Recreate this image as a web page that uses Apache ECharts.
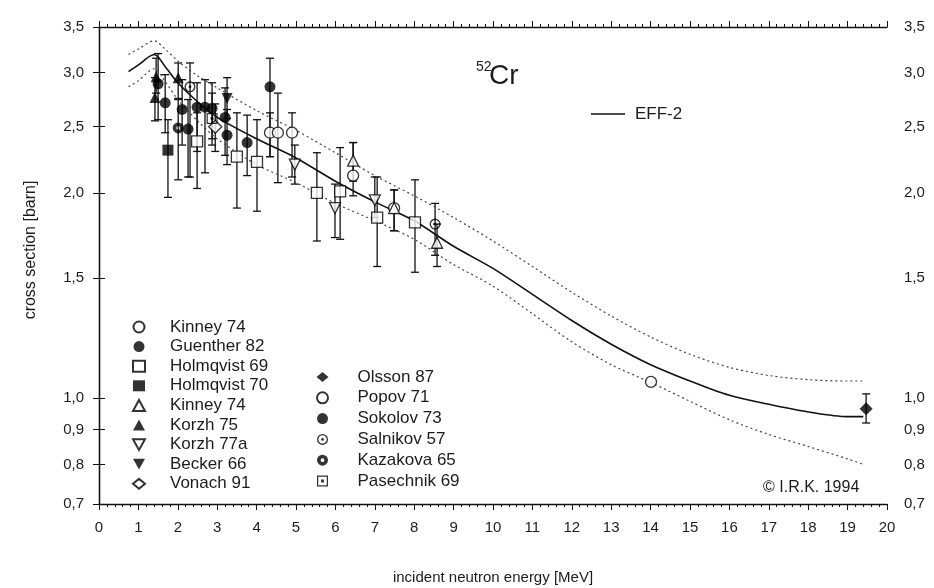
<!DOCTYPE html>
<html>
<head>
<meta charset="utf-8">
<title>52Cr cross section</title>
<script src="https://cdn.jsdelivr.net/npm/echarts@6/dist/echarts.min.js"></script>
<style>
    html, body { margin: 0; background: #fff; }
    #chart { width: 934px; height: 588px; }
</style>
</head>
<body>
<div id="chart"></div>
<script>
// tick labels of the (logarithmic) cross section axis
var yTicks = [0.7, 0.8, 0.9, 1.0, 1.5, 2.0, 2.5, 3.0, 3.5];

// EFF-2 evaluation and its uncertainty band
var effEnergy = [0.75, 1.0, 1.4, 1.7, 2.0, 2.5, 3.0, 4.0, 5.0, 6.0, 7.0, 8.0, 9.0, 10.0, 11.0, 12.0, 13.0, 14.0, 15.0, 16.0, 17.0, 18.0, 19.0, 19.4];
var effValue  = [3.01, 3.08, 3.19, 3.05, 2.90, 2.72, 2.58, 2.40, 2.25, 2.08, 1.94, 1.82, 1.67, 1.55, 1.42, 1.30, 1.20, 1.12, 1.06, 1.01, 0.98, 0.955, 0.94, 0.94];
var effUpper  = [3.19, 3.25, 3.34, 3.24, 3.12, 2.97, 2.85, 2.64, 2.47, 2.29, 2.12, 1.98, 1.84, 1.70, 1.56, 1.43, 1.32, 1.23, 1.16, 1.11, 1.08, 1.065, 1.06, 1.06];
var effLower  = [2.86, 2.92, 3.04, 2.90, 2.74, 2.55, 2.40, 2.20, 2.07, 1.93, 1.82, 1.71, 1.57, 1.46, 1.33, 1.21, 1.12, 1.055, 0.99, 0.93, 0.885, 0.85, 0.815, 0.80];

// measurements: [energy MeV, cross section barn, error low, error high]
var kinney74c = [[4.34, 2.45, 2.26, 2.62], [4.54, 2.45, 2.07, 2.80], [4.90, 2.45, 2.11, 2.62], [6.45, 2.12, 1.98, 2.37], [7.49, 1.90, 1.76, 2.02]];
var guenther82 = [[1.50, 2.89, 2.56, 3.20], [1.68, 2.71, 2.45, 2.98], [2.11, 2.65, 2.35, 2.93], [2.26, 2.48, 2.11, 2.74], [2.49, 2.67, 2.30, 2.90],
                  [2.69, 2.67, 2.14, 2.93], [2.87, 2.66, 2.40, 2.90], [3.20, 2.58, 2.27, 2.85], [3.25, 2.43, 2.20, 2.65], [3.76, 2.37, 2.12, 2.60]];
var holmqvist69 = [[2.49, 2.38, 2.03, 2.62], [3.50, 2.26, 1.90, 2.62], [4.01, 2.22, 1.88, 2.56], [5.53, 2.00, 1.70, 2.29], [6.12, 2.01, 1.71, 2.33], [7.06, 1.84, 1.56, 2.11], [8.02, 1.81, 1.53, 2.09]];
var holmqvist70 = [[1.75, 2.31, 1.97, 2.56]];
var kinney74t = [[6.45, 2.23, 2.08, 2.37], [7.49, 1.90, 1.76, 2.02], [8.58, 1.69, 1.56, 1.80]];
var korzh75 = [[1.45, 2.96, 2.80, 3.15], [1.42, 2.76, 2.55, 2.95], [2.01, 2.95, 2.74, 3.10]];
var korzh77a = [[4.97, 2.20, 2.06, 2.35], [5.99, 1.90, 1.72, 2.06], [7.00, 1.95, 1.84, 2.11]];
var becker66 = [[3.25, 2.75, 2.57, 2.95]];
var vonach91 = [[2.95, 2.50, 2.30, 2.70]];
var olsson87 = [[19.47, 0.965, 0.92, 1.015]];
var popov71 = [[14.01, 1.057, null, null]];
var sokolov73 = [[4.34, 2.86, 2.26, 3.15]];
var salnikov57 = [[2.31, 2.86, 2.11, 3.10], [8.53, 1.80, 1.62, 1.93]];
var kazakova65 = [[2.01, 2.49, 2.09, 2.75]];
var pasechnik69 = [[2.87, 2.57, 2.35, 2.80]];

var ringDot = 'path://M0,-10A10,10,0,1,1,0,10A10,10,0,1,1,0,-10ZM0,-7.6A7.6,7.6,0,1,0,0,7.6A7.6,7.6,0,1,0,0,-7.6ZM0,-2.6A2.6,2.6,0,1,1,0,2.6A2.6,2.6,0,1,1,0,-2.6Z';
var thickRing = 'path://M0,-10A10,10,0,1,1,0,10A10,10,0,1,1,0,-10ZM0,-3.4A3.4,3.4,0,1,0,0,3.4A3.4,3.4,0,1,0,0,-3.4Z';
var squareDot = 'path://M-10,-10L10,-10L10,10L-10,10ZM-7.8,-7.8L-7.8,7.8L7.8,7.8L7.8,-7.8ZM-2.6,-2.6L2.6,-2.6L2.6,2.6L-2.6,2.6Z';
var downTri = 'path://M-10,-9L10,-9L0,9Z';
var wideDiamond = 'path://M0,-9L11,0L0,9L-11,0Z';

var FONT = '"Liberation Sans", Arial, sans-serif';
var INK = '#1c1c1c';

var sets = [
    { name: 'Kinney 74', rows: kinney74c, symbol: 'circle', open: true },
    { name: 'Guenther 82', rows: guenther82, symbol: 'circle' },
    { name: 'Holmqvist 69', rows: holmqvist69, symbol: 'rect', open: true },
    { name: 'Holmqvist 70', rows: holmqvist70, symbol: 'rect' },
    { name: 'Kinney 74 ', rows: kinney74t, symbol: 'triangle', open: true },
    { name: 'Korzh 75', rows: korzh75, symbol: 'triangle' },
    { name: 'Korzh 77a', rows: korzh77a, symbol: downTri, open: true },
    { name: 'Becker 66', rows: becker66, symbol: downTri },
    { name: 'Vonach 91', rows: vonach91, symbol: wideDiamond, open: true },
    { name: 'Olsson 87', rows: olsson87, symbol: wideDiamond },
    { name: 'Popov 71', rows: popov71, symbol: 'circle', open: true },
    { name: 'Sokolov 73', rows: sokolov73, symbol: 'circle' },
    { name: 'Salnikov 57', rows: salnikov57, symbol: ringDot },
    { name: 'Kazakova 65', rows: kazakova65, symbol: thickRing },
    { name: 'Pasechnik 69', rows: pasechnik69, symbol: squareDot }
];

function lg(v) { return Math.log10(v); }

function curve(values) {
    return effEnergy.map(function (e, i) { return [e, lg(values[i])]; });
}

var errorRows = [];
sets.forEach(function (s) {
    s.rows.forEach(function (r) {
        if (r[2] != null) {
            errorRows.push([r[0], lg(r[2]), lg(r[3])]);
        }
    });
});

function renderErrorBar(params, api) {
    var x = api.value(0);
    var lo = api.coord([x, api.value(1)]);
    var hi = api.coord([x, api.value(2)]);
    var w = 4;
    var st = { stroke: '#111', lineWidth: 1.3 };
    return {
        type: 'group',
        children: [
            { type: 'line', shape: { x1: lo[0], y1: lo[1], x2: hi[0], y2: hi[1] }, style: st },
            { type: 'line', shape: { x1: lo[0] - w, y1: lo[1], x2: lo[0] + w, y2: lo[1] }, style: st },
            { type: 'line', shape: { x1: hi[0] - w, y1: hi[1], x2: hi[0] + w, y2: hi[1] }, style: st }
        ]
    };
}

var series = [
    {
        name: 'errors', type: 'custom', renderItem: renderErrorBar,
        data: errorRows, encode: { x: 0, y: [1, 2] }, z: 2, silent: true
    },
    {
        name: 'EFF-2', type: 'line', data: curve(effValue), smooth: 0.3,
        symbol: 'none', itemStyle: { color: '#111' },
        lineStyle: { color: '#111', width: 1.6 }, z: 3
    },
    {
        name: 'upper', type: 'line', data: curve(effUpper), smooth: 0.3,
        symbol: 'none', lineStyle: { color: '#444', width: 1.2, type: [2, 3] }, z: 3
    },
    {
        name: 'lower', type: 'line', data: curve(effLower), smooth: 0.3,
        symbol: 'none', lineStyle: { color: '#444', width: 1.2, type: [2, 3] }, z: 3
    }
];

sets.forEach(function (s) {
    var style = s.open
        ? { color: '#fff', borderColor: '#000', borderWidth: 1.3 }
        : { color: '#000', borderWidth: 0 };
    series.push({
        name: s.name,
        type: 'scatter',
        z: 4,
        symbol: s.symbol,
        symbolSize: s.symbol === wideDiamond ? 13 : 11,
        itemStyle: style,
        data: s.rows.map(function (r) { return [r[0], lg(r[1])]; })
    });
});

var yLabelStyle = {
    customValues: yTicks.map(lg),
    fontFamily: FONT, fontSize: 15, color: INK,
    formatter: function (v) { return Math.pow(10, v).toFixed(1).replace('.', ','); }
};

function yAxis(pos, margin) {
    return {
        type: 'value', position: pos,
        min: lg(0.7), max: lg(3.5),
        axisLine: { show: true, lineStyle: { color: '#111', width: 1.3 } },
        axisTick: { show: true, customValues: yTicks.map(lg), length: 6, lineStyle: { color: '#111' } },
        axisLabel: Object.assign({ margin: margin }, yLabelStyle),
        splitLine: { show: false }
    };
}

function xAxis(pos, withLabels) {
    return {
        type: 'value', position: pos,
        min: 0, max: 20, interval: 1,
        axisLine: { show: true, onZero: false, lineStyle: { color: '#111', width: 1.3 } },
        axisTick: { show: true, length: 6, lineStyle: { color: '#111' } },
        minorTick: { show: true, splitNumber: 5, length: 3, lineStyle: { color: '#111' } },
        axisLabel: { show: withLabels, margin: 16, fontFamily: FONT, fontSize: 15, color: INK },
        splitLine: { show: false },
        name: withLabels ? 'incident neutron energy [MeV]' : '',
        nameLocation: 'middle', nameGap: 66,
        nameTextStyle: { fontFamily: FONT, fontSize: 15, color: INK }
    };
}

function legendText(pad) {
    return { fontFamily: FONT, fontSize: 17, color: INK, lineHeight: 18, padding: [0, 0, 0, pad] };
}

var option = {
    animation: false,
    backgroundColor: '#fff',
    grid: { left: 99, right: 47, top: 27, bottom: 84, outerBoundsMode: 'none' },
    xAxis: [xAxis('bottom', true), xAxis('top', false)],
    yAxis: [yAxis('left', 15), yAxis('right', 17)],
    legend: [
        {
            data: sets.slice(0, 9).map(function (s) { return s.name; }),
            orient: 'vertical', left: 127, top: 313,
            itemWidth: 12, itemHeight: 11, itemGap: 1.6,
            selectedMode: false, textStyle: legendText(20)
        },
        {
            data: sets.slice(9).map(function (s) { return s.name; }),
            orient: 'vertical', left: 311, top: 363,
            itemWidth: 12, itemHeight: 11, itemGap: 2.8,
            selectedMode: false, textStyle: legendText(24)
        },
        {
            data: [{ name: 'EFF-2', icon: 'rect' }],
            left: 586, top: 100,
            itemWidth: 34, itemHeight: 1.6,
            selectedMode: false, textStyle: legendText(5)
        }
    ],
    graphic: [
        { type: 'text', x: 476, y: 67, style: { text: '52', fontFamily: FONT, fontSize: 14, fill: INK, verticalAlign: 'middle' } },
        { type: 'text', x: 489, y: 76, style: { text: 'Cr', fontFamily: FONT, fontSize: 28, fill: INK, verticalAlign: 'middle' } },
        { type: 'text', x: 763, y: 488, style: { text: '\u00a9 I.R.K. 1994', fontFamily: FONT, fontSize: 16, fill: INK, verticalAlign: 'middle' } },
        {
            type: 'text', x: 31, y: 250, rotation: Math.PI / 2,
            style: { text: 'cross section [barn]', fontFamily: FONT, fontSize: 16, fill: INK, align: 'center', verticalAlign: 'middle' }
        }
    ],
    series: series
};

var chart = echarts.init(document.getElementById('chart'));
chart.setOption(option);
</script>
</body>
</html>
